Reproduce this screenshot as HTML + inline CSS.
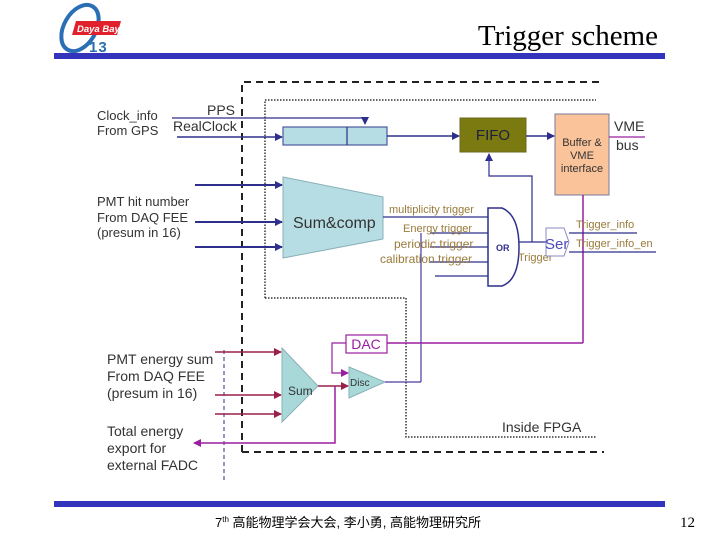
<!DOCTYPE html>
<html><head><meta charset="utf-8"><style>
html,body{margin:0;padding:0;background:#fff;}
svg{display:block;font-family:"Liberation Sans",Arial,sans-serif;}
</style></head><body>
<svg width="720" height="540" viewBox="0 0 720 540" xmlns="http://www.w3.org/2000/svg">
<defs>
<marker id="ab" markerWidth="8" markerHeight="8" refX="7" refY="4" orient="auto" markerUnits="userSpaceOnUse"><path d="M0,0 L8,4 L0,8 z" fill="#2e2e8c"/></marker>
<marker id="ar" markerWidth="8" markerHeight="8" refX="7" refY="4" orient="auto" markerUnits="userSpaceOnUse"><path d="M0,0 L8,4 L0,8 z" fill="#9a1f4a"/></marker>
<marker id="ap" markerWidth="8" markerHeight="8" refX="7" refY="4" orient="auto" markerUnits="userSpaceOnUse"><path d="M0,0 L8,4 L0,8 z" fill="#9a1fa0"/></marker>
</defs>
<!-- logo -->
<ellipse cx="80" cy="28" rx="16" ry="25" transform="rotate(30 80 28)" fill="none" stroke="#2a6fb5" stroke-width="4"/>
<polygon points="76,21 121,21 117,35 72,35" fill="#e0202a"/>
<text x="77" y="32" font-size="9.5" font-style="italic" font-weight="bold" fill="#fff">Daya Bay</text>
<text x="89" y="52" font-size="15" font-weight="bold" fill="#2a6fb5" letter-spacing="1">13</text>
<text x="658" y="45" font-family="Liberation Serif,serif" font-size="29" text-anchor="end" fill="#000">Trigger scheme</text>
<rect x="54" y="53" width="611" height="6" fill="#3333bb"/>
<rect x="54" y="501" width="611" height="6" fill="#3333bb"/>
<text x="215" y="527" font-size="13" fill="#000" font-family="Liberation Sans,'Noto Sans CJK SC',sans-serif">7<tspan font-size="8" dy="-5">th</tspan><tspan dy="5"> 高能物理学会大会, 李小勇, 高能物理研究所</tspan></text>
<text x="695" y="527" font-size="15" text-anchor="end" font-family="Liberation Serif,serif">12</text>

<!-- dashed / dotted boxes -->
<path d="M242,452 V82 H604" fill="none" stroke="#222" stroke-width="2" stroke-dasharray="7,5"/>
<path d="M242,452 H604" fill="none" stroke="#222" stroke-width="2" stroke-dasharray="7,5"/>
<path d="M265,298 V100 H596 M265,298 H406 V437 H596" fill="none" stroke="#333" stroke-width="1.5" stroke-dasharray="1.5,1.5"/>
<line x1="224" y1="350" x2="224" y2="480" stroke="#2e2e8c" stroke-width="1" stroke-dasharray="4,3"/>

<!-- clock -->
<text x="97" y="120" font-size="13" fill="#333">Clock_info</text>
<text x="97" y="135" font-size="13" fill="#333">From GPS</text>
<text x="207" y="115" font-size="14" fill="#333">PPS</text>
<text x="173" y="131" font-size="14" fill="#333">RealClock</text>
<path d="M172,118 H365 V124" fill="none" stroke="#2e2e8c" stroke-width="1.2" marker-end="url(#ab)"/>
<line x1="177" y1="137" x2="282" y2="137" stroke="#2e2e8c" stroke-width="1.5" marker-end="url(#ab)"/>
<rect x="283" y="127" width="104" height="18" fill="#b6dde3" stroke="#4a5aa0" stroke-width="1.2"/>
<line x1="347" y1="127" x2="347" y2="145" stroke="#2e2e8c" stroke-width="1.2"/>
<line x1="387" y1="136" x2="459" y2="136" stroke="#2e2e8c" stroke-width="1.5" marker-end="url(#ab)"/>
<rect x="460" y="118" width="66" height="34" fill="#7a7a10" stroke="#6a6a20"/>
<text x="493" y="140" font-size="15" text-anchor="middle" fill="#1e1e40">FIFO</text>
<line x1="526" y1="136" x2="554" y2="136" stroke="#2e2e8c" stroke-width="1.5" marker-end="url(#ab)"/>
<rect x="555" y="114" width="54" height="81" fill="#fbc39a" stroke="#7a7a9a"/>
<text x="582" y="146" font-size="11" text-anchor="middle" fill="#333">Buffer &amp;</text>
<text x="582" y="159" font-size="11" text-anchor="middle" fill="#333">VME</text>
<text x="582" y="172" font-size="11" text-anchor="middle" fill="#333">interface</text>
<text x="614" y="131" font-size="14" fill="#333">VME</text>
<text x="616" y="150" font-size="14" fill="#333">bus</text>
<line x1="609" y1="137" x2="645" y2="137" stroke="#9a1fa0" stroke-width="1.2"/>

<!-- PMT hit -->
<text x="97" y="206" font-size="13" fill="#333">PMT hit number</text>
<text x="97" y="222" font-size="13" fill="#333">From DAQ FEE</text>
<text x="97" y="237" font-size="13" fill="#333">(presum in 16)</text>
<line x1="195" y1="185" x2="282" y2="185" stroke="#2e2e8c" stroke-width="2" marker-end="url(#ab)"/>
<line x1="195" y1="222" x2="282" y2="222" stroke="#2e2e8c" stroke-width="2" marker-end="url(#ab)"/>
<line x1="195" y1="247" x2="282" y2="247" stroke="#2e2e8c" stroke-width="2" marker-end="url(#ab)"/>
<polygon points="283,177 383,197 383,239 283,258" fill="#b6dde3" stroke="#8ab0b8"/>
<text x="293" y="228" font-size="16" fill="#333">Sum&amp;comp</text>

<!-- OR gate -->
<line x1="383" y1="217" x2="488" y2="217" stroke="#2e2e8c" stroke-width="1.2"/>
<line x1="430" y1="233" x2="488" y2="233" stroke="#2e2e8c" stroke-width="1.2"/>
<line x1="430" y1="247" x2="488" y2="247" stroke="#2e2e8c" stroke-width="1.2"/>
<line x1="430" y1="262" x2="488" y2="262" stroke="#2e2e8c" stroke-width="1.2"/>
<line x1="435" y1="276" x2="488" y2="276" stroke="#2e2e8c" stroke-width="1.2"/>
<line x1="421" y1="233" x2="421" y2="382" stroke="#4a3aa0" stroke-width="1.2"/>
<path d="M488,208 H502 Q519,215 519,247 Q519,280 502,286 H488 Z" fill="#fff" stroke="#2e2e8c" stroke-width="1.5"/>
<text x="496" y="251" font-size="9" font-weight="bold" fill="#2e2e8c">OR</text>
<text x="389" y="213" font-size="11" fill="#9a7a3a">multiplicity trigger</text>
<text x="403" y="232" font-size="11" fill="#9a7a3a">Energy trigger</text>
<text x="394" y="248" font-size="12" fill="#9a7a3a">periodic trigger</text>
<text x="380" y="263" font-size="12" fill="#9a7a3a">calibration trigger</text>
<text x="518" y="261" font-size="11" fill="#9a7a3a">Trigger</text>
<line x1="519" y1="242" x2="546" y2="242" stroke="#2e2e8c" stroke-width="1.2"/>
<path d="M532,242 V176 H489 V154" fill="none" stroke="#2e2e8c" stroke-width="1.2" marker-end="url(#ab)"/>
<line x1="583" y1="195" x2="583" y2="343" stroke="#9a1fa0" stroke-width="1.5"/>
<polygon points="546,228 564,228 569,242 564,256 546,256" fill="#fff" stroke="#8a8ac0"/>
<text x="545" y="249" font-size="15" fill="#4a4ab8">Ser</text>
<line x1="569" y1="233" x2="637" y2="233" stroke="#2e2e8c" stroke-width="1.2"/>
<line x1="569" y1="252" x2="656" y2="252" stroke="#2e2e8c" stroke-width="1.2"/>
<text x="576" y="228" font-size="11" fill="#9a7a3a">Trigger_info</text>
<text x="576" y="247" font-size="11" fill="#9a7a3a">Trigger_info_en</text>

<!-- energy -->
<text x="107" y="364" font-size="14" fill="#333">PMT energy sum</text>
<text x="107" y="381" font-size="14" fill="#333">From DAQ FEE</text>
<text x="107" y="398" font-size="14" fill="#333">(presum in 16)</text>
<text x="107" y="436" font-size="14" fill="#333">Total energy</text>
<text x="107" y="453" font-size="14" fill="#333">export for</text>
<text x="107" y="470" font-size="14" fill="#333">external FADC</text>
<line x1="215" y1="352" x2="281" y2="352" stroke="#9a1f4a" stroke-width="1.5" marker-end="url(#ar)"/>
<line x1="215" y1="395" x2="281" y2="395" stroke="#9a1f4a" stroke-width="1.5" marker-end="url(#ar)"/>
<line x1="215" y1="414" x2="281" y2="414" stroke="#9a1f4a" stroke-width="1.5" marker-end="url(#ar)"/>
<polygon points="282,348 318,386 282,422" fill="#a8d8d8" stroke="#8ab0b8"/>
<text x="288" y="395" font-size="12" fill="#333">Sum</text>
<line x1="318" y1="386" x2="348" y2="386" stroke="#9a1f4a" stroke-width="1.5" marker-end="url(#ar)"/>
<path d="M335,386 V443 H194" fill="none" stroke="#9a1fa0" stroke-width="1.5" marker-end="url(#ap)"/>
<rect x="346" y="335" width="41" height="18" fill="#fff" stroke="#9a1fa0" stroke-width="1.2"/>
<text x="366" y="349" font-size="14" text-anchor="middle" fill="#9a1fa0">DAC</text>
<line x1="387" y1="343" x2="583" y2="343" stroke="#9a1fa0" stroke-width="1.5"/>
<path d="M346,343 H332 V373 H348" fill="none" stroke="#9a1fa0" stroke-width="1.2" marker-end="url(#ap)"/>
<polygon points="349,367 385,382 349,398" fill="#a8d8d8" stroke="#8ab0b8"/>
<text x="350" y="386" font-size="10" fill="#333">Disc</text>
<line x1="385" y1="382" x2="421" y2="382" stroke="#4a3aa0" stroke-width="1.2"/>
<text x="502" y="432" font-size="14" fill="#333">Inside FPGA</text>
</svg>
</body></html>
